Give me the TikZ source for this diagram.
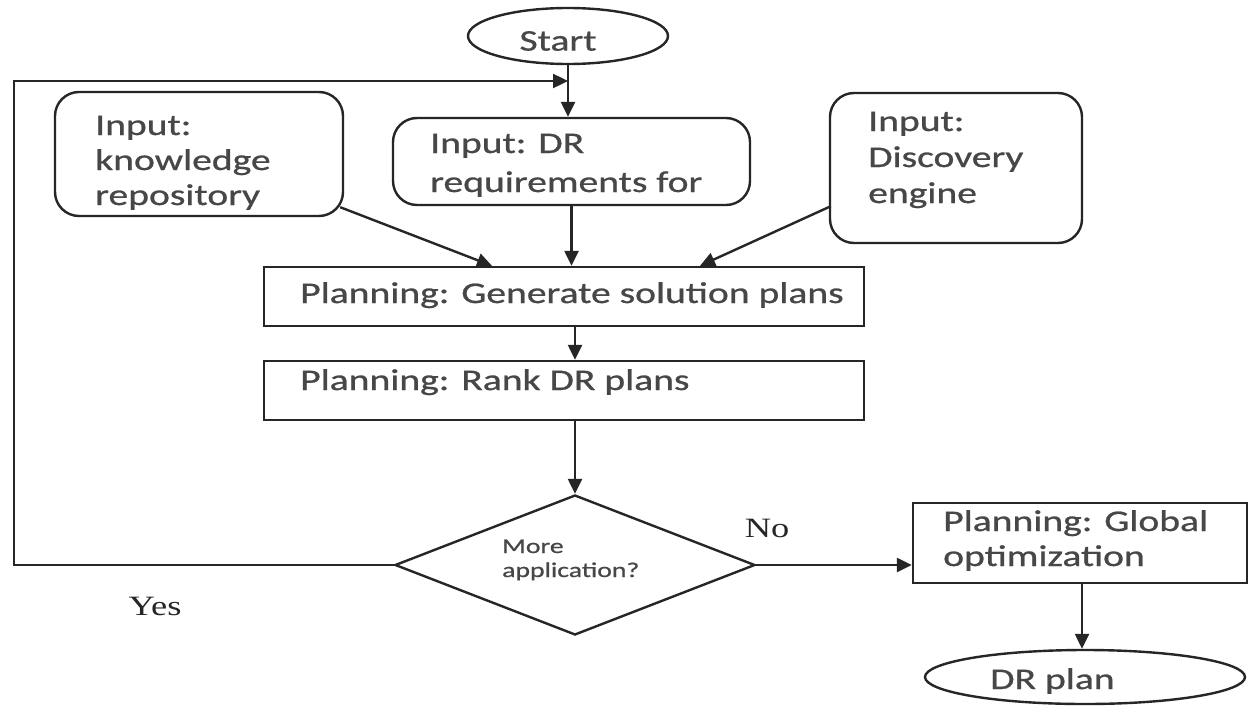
\documentclass[tikz,border=0pt]{standalone}
\usepackage{fontspec}
\setmainfont{Carlito}
\newfontfamily\boxfnt[FakeStretch=1.32,FakeBold=0.8]{Carlito}
\newfontfamily\serfnt[FakeStretch=1.3]{Liberation Serif}
\usetikzlibrary{shapes.geometric,arrows.meta,calc}
\begin{document}
\begin{tikzpicture}[x=1pt,y=-1pt,
  ln/.style={line width=2.4pt, draw=black!85},
  arr/.style={ln, -{Triangle[length=15pt,width=14pt]}},
  rbox/.style={ln, rounded corners=24pt, inner sep=0pt},
  sbox/.style={ln, inner sep=0pt},
  txt/.style={font=\boxfnt\fontsize{30}{35}\selectfont, text=black!72, align=left, anchor=base west, inner sep=0pt},
  small/.style={font=\boxfnt\fontsize{21}{24}\selectfont, text=black!72, align=left, anchor=base west, inner sep=0pt},
  ser/.style={font=\serfnt\fontsize{28}{32}\selectfont, text=black!85, inner sep=0pt, anchor=base}
]
\useasboundingbox[fill=white] (0,0) rectangle (1249,709);

% shapes
\node[ln, ellipse, minimum width=200pt, minimum height=56pt, inner sep=0pt] (start) at (568,36) {};
\node[font=\boxfnt\fontsize{30}{32}\selectfont, text=black!72, inner sep=0pt] (starttxt) at (558,41) {Start};

\node[rbox, minimum width=288pt, minimum height=124pt] (kr) at (199,154) {};
\node[rbox, minimum width=357pt, minimum height=87pt] (dr) at (571.5,161.5) {};
\node[rbox, minimum width=252pt, minimum height=150pt] (disc) at (956,168) {};
\node[sbox, minimum width=600pt, minimum height=59pt] (gen) at (564,296.5) {};
\node[sbox, minimum width=600pt, minimum height=59pt] (rank) at (564,390.5) {};
\node[ln, diamond, minimum width=360pt, minimum height=140pt, inner sep=0pt] (dec) at (575,565) {};
\node[sbox, minimum width=334pt, minimum height=80pt] (glob) at (1080,543) {};
\node[ln, ellipse, minimum width=320pt, minimum height=54pt, inner sep=0pt] (plan) at (1085,677) {};
\node[font=\boxfnt\fontsize{30}{32}\selectfont, text=black!72, inner sep=0pt, anchor=west] (plantxt) at (990,681) {DR plan};

% texts
\node[txt] (krtxt) at (95,205) {Input:\\knowledge\\repository};
\node[txt] (drtxt) at (430,192) {Input: DR\\[4pt]requirements for};
\node[txt] (disctxt) at (868,203) {Input:\\[1pt]Discovery\\[1pt]engine};
\node[txt] (gentxt) at (300,303) {Planning: Generate solution plans};
\node[txt] (ranktxt) at (300,390) {Planning: Rank DR plans};
\node[txt] (globtxt) at (943,566) {Planning: Global\\optimization};
\node[small] (dectxt) at (502,577) {More\\application?};
\node[ser] (no) at (767,537) {No};
\node[ser] (yes) at (155,615) {Yes};

% connectors
\coordinate (loopL) at (14,81);
\coordinate (loopR) at (568,81);
\draw[arr] (start.south) -- (start.south |- dr.north);
\draw[arr] (dec.west) -| (loopL) -- (loopR);
\draw[arr] ($(kr.south east)+(-4,-10)$) -- ($(gen.north)+(-72,0)$);
\draw[arr] (dr.south) -- (dr.south |- gen.north);
\draw[arr] ($(disc.south west)+(2,-38)$) -- ($(gen.north)+(136,0)$);
\draw[arr] (gen.south -| dec.north) -- (rank.north -| dec.north);
\draw[arr] (rank.south -| dec.north) -- (dec.north);
\draw[arr] (dec.east) -- (glob.west |- dec.east);
\draw[arr] (glob.south -| 1082,0) -- (plan.north -| 1082,0);
\end{tikzpicture}
\end{document}
